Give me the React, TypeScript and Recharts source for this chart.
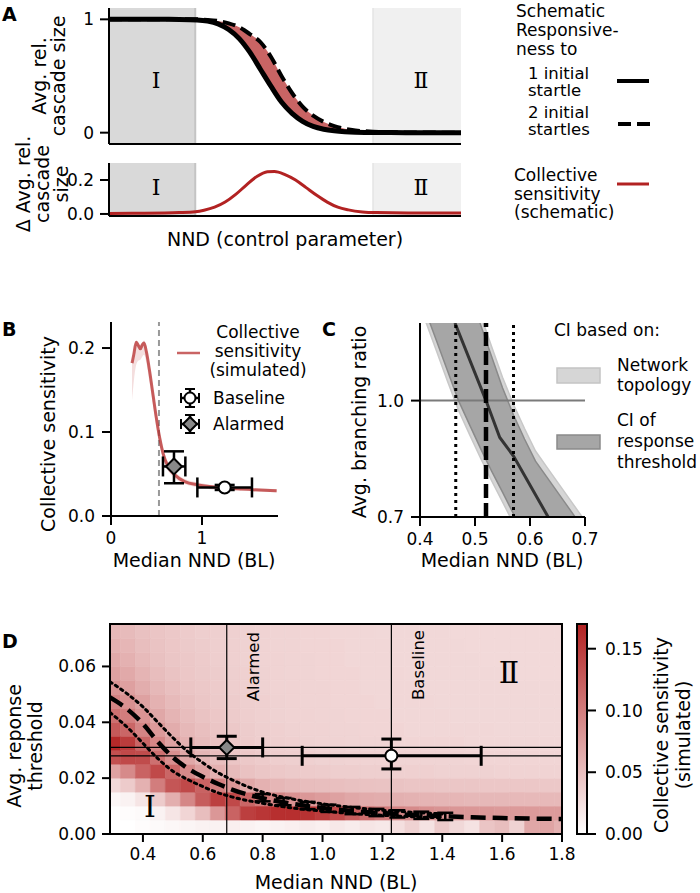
import React from 'react';
import {
  ComposedChart, Line, Area, XAxis, YAxis, ReferenceArea, ReferenceLine, Scatter, ErrorBar,
} from 'recharts';

const FONT = 'DejaVu Sans';
const SERIF = 'DejaVu Serif';
const RED = '#b22222';

// ---------------- Panel A (schematic) ----------------
const aX = [0, 0.05, 0.1, 0.15, 0.2, 0.25, 0.28, 0.31, 0.34, 0.37, 0.4, 0.43, 0.46, 0.49, 0.52, 0.55, 0.58, 0.61, 0.64, 0.67, 0.7, 0.75, 0.8, 0.9, 1.0];
const aOneStartle = [1, 1, 1, 1, 0.999, 0.995, 0.985, 0.96, 0.91, 0.83, 0.71, 0.56, 0.41, 0.27, 0.17, 0.1, 0.055, 0.03, 0.016, 0.008, 0.004, 0.002, 0.001, 0, 0];
const aTwoStartles = [1, 1, 1, 1, 1, 1, 0.995, 0.985, 0.965, 0.93, 0.87, 0.8, 0.67, 0.5, 0.35, 0.23, 0.15, 0.095, 0.058, 0.034, 0.02, 0.008, 0.004, 0.001, 0];
const aDiffX = [0, 0.1, 0.2, 0.245, 0.27, 0.3, 0.33, 0.36, 0.39, 0.42, 0.45, 0.47, 0.5, 0.53, 0.56, 0.59, 0.62, 0.65, 0.68, 0.72, 0.76, 0.85, 1.0];
const aDiff = [0.003, 0.004, 0.008, 0.013, 0.022, 0.04, 0.07, 0.115, 0.17, 0.22, 0.248, 0.25, 0.232, 0.2, 0.155, 0.11, 0.07, 0.04, 0.024, 0.012, 0.008, 0.006, 0.006];
const aRegionI = [0, 0.245];
const aRegionII = [0.75, 1];

// ---------------- Panel B ----------------
const bX = [0.231, 0.25, 0.277, 0.3, 0.322, 0.345, 0.363, 0.388, 0.425, 0.462, 0.498, 0.535, 0.571, 0.626, 0.7, 0.81, 0.956, 1.18, 1.44, 1.82];
const bY = [0.182, 0.192, 0.207, 0.203, 0.199, 0.204, 0.206, 0.196, 0.172, 0.144, 0.117, 0.093, 0.075, 0.059, 0.049, 0.041, 0.037, 0.034, 0.032, 0.03];
const bLo = [0.138, 0.16, 0.18, 0.185, 0.186, 0.19, 0.192, 0.183, 0.158, 0.132, 0.106, 0.084, 0.068, 0.054, 0.045, 0.038, 0.034, 0.031, 0.03, 0.028];
const bHi = [0.186, 0.198, 0.209, 0.207, 0.203, 0.207, 0.209, 0.202, 0.18, 0.152, 0.126, 0.101, 0.082, 0.064, 0.053, 0.044, 0.04, 0.036, 0.034, 0.032];
const bCritical = 0.527;
const bBaseline = { x: 1.249, y: 0.034, ex: [0.3, 0.3], ey: [0.003, 0.003] };
const bAlarmed = { x: 0.692, y: 0.059, ex: [0.121, 0.125], ey: [0.02, 0.018] };

// ---------------- Panel C ----------------
const cX = [0.39, 0.41, 0.43, 0.45, 0.47, 0.49, 0.51, 0.53, 0.55, 0.57, 0.59, 0.61, 0.63, 0.65, 0.67, 0.69, 0.71];
const cDarkLo = [1.308, 1.231, 1.154, 1.077, 1.0, 0.938, 0.877, 0.819, 0.764, 0.708, 0.653, 0.6, 0.6, 0.6, 0.6, 0.6, 0.6];
const cDarkHi = [1.35, 1.35, 1.35, 1.35, 1.35, 1.278, 1.196, 1.114, 1.033, 0.963, 0.901, 0.844, 0.804, 0.764, 0.724, 0.684, 0.644];
const cLightLo = [1.28, 1.205, 1.128, 1.05, 0.975, 0.913, 0.852, 0.794, 0.739, 0.683, 0.628, 0.6, 0.6, 0.6, 0.6, 0.6, 0.6];
const cLightHi = [1.35, 1.35, 1.35, 1.35, 1.35, 1.3, 1.222, 1.14, 1.06, 0.99, 0.928, 0.87, 0.83, 0.79, 0.75, 0.71, 0.67];
const cLineX = [0.4636, 0.52, 0.545, 0.57, 0.633];
const cLineY = [1.2, 1.0, 0.905, 0.857, 0.7];
const cCritical = 0.52;
const cCI = [0.465, 0.57];

// ---------------- Panel D ----------------
const dCellX = [0.3, 0.35, 0.4, 0.45, 0.5, 0.55, 0.6, 0.65, 0.7, 0.75, 0.8, 0.85, 0.9, 0.95, 1.0, 1.05, 1.1, 1.15, 1.2, 1.25, 1.3, 1.35, 1.4, 1.45, 1.5, 1.55, 1.6, 1.65, 1.7, 1.75, 1.8];
const dCellY = [0.0025, 0.0075, 0.0125, 0.0175, 0.0225, 0.0275, 0.0325, 0.0375, 0.0425, 0.0475, 0.0525, 0.0575, 0.0625, 0.0675, 0.0725];
const dBinW = 0.05;
const dBinH = 0.005;
const dHeat = [
  [0.0, 0.0, 0.002, 0.004, 0.006, 0.008, 0.01, 0.01, 0.012, 0.01, 0.008, 0.01, 0.012, 0.015, 0.012, 0.018, 0.015, 0.02, 0.018, 0.025, 0.035, 0.022, 0.04, 0.03, 0.022, 0.045, 0.05, 0.035, 0.068, 0.07, 0.06],
  [0.0, 0.002, 0.004, 0.01, 0.02, 0.032, 0.05, 0.08, 0.12, 0.148, 0.155, 0.16, 0.16, 0.158, 0.15, 0.14, 0.125, 0.112, 0.102, 0.095, 0.09, 0.086, 0.083, 0.081, 0.08, 0.079, 0.078, 0.078, 0.078, 0.077, 0.077],
  [0.006, 0.01, 0.02, 0.04, 0.062, 0.092, 0.125, 0.148, 0.14, 0.118, 0.102, 0.094, 0.085, 0.08, 0.076, 0.072, 0.068, 0.065, 0.063, 0.061, 0.059, 0.058, 0.057, 0.056, 0.055, 0.055, 0.055, 0.054, 0.054, 0.054, 0.054],
  [0.03, 0.04, 0.06, 0.1, 0.13, 0.14, 0.12, 0.098, 0.08, 0.068, 0.06, 0.056, 0.053, 0.051, 0.05, 0.049, 0.048, 0.047, 0.046, 0.046, 0.045, 0.045, 0.044, 0.044, 0.044, 0.043, 0.043, 0.043, 0.043, 0.042, 0.042],
  [0.072, 0.09, 0.12, 0.14, 0.118, 0.09, 0.072, 0.06, 0.052, 0.047, 0.044, 0.042, 0.041, 0.04, 0.039, 0.038, 0.038, 0.037, 0.037, 0.036, 0.036, 0.036, 0.035, 0.035, 0.035, 0.035, 0.034, 0.034, 0.034, 0.034, 0.034],
  [0.135, 0.14, 0.138, 0.11, 0.086, 0.068, 0.057, 0.05, 0.045, 0.042, 0.04, 0.038, 0.037, 0.036, 0.035, 0.035, 0.034, 0.034, 0.034, 0.033, 0.033, 0.033, 0.033, 0.033, 0.032, 0.032, 0.032, 0.032, 0.032, 0.032, 0.032],
  [0.165, 0.15, 0.118, 0.092, 0.072, 0.06, 0.052, 0.047, 0.043, 0.04, 0.038, 0.037, 0.036, 0.035, 0.034, 0.034, 0.033, 0.033, 0.033, 0.032, 0.032, 0.032, 0.032, 0.032, 0.031, 0.031, 0.031, 0.031, 0.031, 0.031, 0.031],
  [0.128, 0.118, 0.095, 0.078, 0.064, 0.055, 0.049, 0.045, 0.042, 0.039, 0.037, 0.036, 0.035, 0.034, 0.034, 0.033, 0.033, 0.032, 0.032, 0.032, 0.031, 0.031, 0.031, 0.031, 0.031, 0.031, 0.03, 0.03, 0.03, 0.03, 0.03],
  [0.11, 0.1, 0.082, 0.068, 0.058, 0.051, 0.046, 0.043, 0.04, 0.038, 0.036, 0.035, 0.034, 0.034, 0.033, 0.033, 0.032, 0.032, 0.032, 0.031, 0.031, 0.031, 0.031, 0.03, 0.03, 0.03, 0.03, 0.03, 0.03, 0.03, 0.03],
  [0.095, 0.085, 0.072, 0.06, 0.053, 0.048, 0.044, 0.041, 0.039, 0.037, 0.036, 0.035, 0.034, 0.033, 0.033, 0.032, 0.032, 0.032, 0.031, 0.031, 0.031, 0.031, 0.03, 0.03, 0.03, 0.03, 0.03, 0.03, 0.03, 0.03, 0.03],
  [0.082, 0.073, 0.063, 0.055, 0.049, 0.045, 0.042, 0.04, 0.038, 0.036, 0.035, 0.034, 0.034, 0.033, 0.033, 0.032, 0.032, 0.031, 0.031, 0.031, 0.031, 0.03, 0.03, 0.03, 0.03, 0.03, 0.03, 0.03, 0.03, 0.03, 0.03],
  [0.072, 0.066, 0.058, 0.051, 0.046, 0.043, 0.041, 0.039, 0.037, 0.036, 0.035, 0.034, 0.033, 0.033, 0.032, 0.032, 0.032, 0.031, 0.031, 0.031, 0.03, 0.03, 0.03, 0.03, 0.03, 0.03, 0.03, 0.029, 0.029, 0.029, 0.029],
  [0.066, 0.06, 0.053, 0.048, 0.044, 0.042, 0.04, 0.038, 0.036, 0.035, 0.034, 0.034, 0.033, 0.033, 0.032, 0.032, 0.031, 0.031, 0.031, 0.03, 0.03, 0.03, 0.03, 0.03, 0.03, 0.029, 0.029, 0.029, 0.029, 0.029, 0.029],
  [0.06, 0.056, 0.05, 0.046, 0.043, 0.041, 0.039, 0.037, 0.036, 0.035, 0.034, 0.033, 0.033, 0.032, 0.032, 0.032, 0.031, 0.031, 0.031, 0.03, 0.03, 0.03, 0.03, 0.03, 0.029, 0.029, 0.029, 0.029, 0.029, 0.029, 0.029],
  [0.055, 0.052, 0.048, 0.045, 0.042, 0.04, 0.038, 0.037, 0.036, 0.035, 0.034, 0.033, 0.033, 0.032, 0.032, 0.031, 0.031, 0.031, 0.03, 0.03, 0.03, 0.03, 0.03, 0.029, 0.029, 0.029, 0.029, 0.029, 0.029, 0.029, 0.029],
];
const dMidX = [0.29, 0.35, 0.4, 0.45, 0.5, 0.55, 0.6, 0.65, 0.7, 0.8, 0.9, 1.0, 1.1, 1.2, 1.3, 1.4, 1.5, 1.6, 1.7, 1.8];
const dMid = [0.0489, 0.0445, 0.0395, 0.033, 0.0275, 0.0235, 0.0205, 0.018, 0.0158, 0.0128, 0.0108, 0.0093, 0.0082, 0.0075, 0.0068, 0.0064, 0.006, 0.0057, 0.0055, 0.0054];
const dBandX = [0.29, 0.35, 0.4, 0.45, 0.5, 0.55, 0.6, 0.65, 0.7, 0.8, 0.9, 1.0, 1.1, 1.2, 1.3, 1.4];
const dUpper = [0.0545, 0.05, 0.0455, 0.04, 0.0345, 0.0295, 0.0255, 0.022, 0.0193, 0.015, 0.0125, 0.0108, 0.0095, 0.0085, 0.0078, 0.0072];
const dLower = [0.0435, 0.038, 0.0325, 0.027, 0.0225, 0.0195, 0.017, 0.0148, 0.0132, 0.011, 0.0093, 0.0082, 0.0073, 0.0067, 0.0062, 0.0058];
const dTickX = [0.8, 0.87, 0.95, 1.02, 1.1, 1.18, 1.25, 1.33, 1.41];
const dTickY = [0.013, 0.0116, 0.0102, 0.0092, 0.0084, 0.0077, 0.0072, 0.0067, 0.0063];
const dAlarmed = { x: 0.68, y: 0.031, ex: [0.12, 0.12], ey: [0.004, 0.004] };
const dBaseline = { x: 1.23, y: 0.028, ex: [0.298, 0.3], ey: [0.0047, 0.006] };
const dRefX = [0.68, 1.23];
const dRefY = [0.031, 0.028];
const cbMax = 0.17;

// ---------------- helpers ----------------
const tickStyle = { fontSize: 17, fill: '#000', fontFamily: FONT };
const axisLine = { stroke: '#000', strokeWidth: 2 };
const tickLine = { stroke: '#000', strokeWidth: 2 };

const heatColor = (v: number) => {
  const t = Math.max(0, Math.min(1, v / cbMax));
  const mix = (a: number, b: number) => Math.round(a + (b - a) * t);
  return `rgb(${mix(255, 178)},${mix(255, 34)},${mix(255, 34)})`;
};

const circleShape = (r: number) => (p: any) => (
  <circle cx={p.cx} cy={p.cy} r={r} fill="#fff" stroke="#000" strokeWidth={2} />
);
const diamondShape = (r: number) => (p: any) => (
  <polygon
    points={`${p.cx},${p.cy - r} ${p.cx + r},${p.cy} ${p.cx},${p.cy + r} ${p.cx - r},${p.cy}`}
    fill="#888" stroke="#000" strokeWidth={2}
  />
);
const noShape = () => <g />;

const Pos = ({ left, top, children }: any) => (
  <div style={{ position: 'absolute', left, top }}>{children}</div>
);

const Txt = ({ x, y, children, size = 17, anchor = 'start', rot = false, weight = 'normal', family = FONT }: any) => (
  <text
    x={x} y={y} fontSize={size} textAnchor={anchor} fontFamily={family} fontWeight={weight} fill="#000"
    transform={rot ? `rotate(-90 ${x} ${y})` : undefined}
  >
    {children}
  </text>
);

const LegendMarker = ({ x, y, kind }: any) => (
  <g>
    <line x1={x - 9} x2={x + 9} y1={y} y2={y} stroke="#000" strokeWidth={2.5} />
    <line x1={x - 9} x2={x - 9} y1={y - 5} y2={y + 5} stroke="#000" strokeWidth={2} />
    <line x1={x + 9} x2={x + 9} y1={y - 5} y2={y + 5} stroke="#000" strokeWidth={2} />
    <line x1={x} x2={x} y1={y - 9} y2={y + 9} stroke="#000" strokeWidth={2.5} />
    <line x1={x - 5} x2={x + 5} y1={y - 9} y2={y - 9} stroke="#000" strokeWidth={2} />
    <line x1={x - 5} x2={x + 5} y1={y + 9} y2={y + 9} stroke="#000" strokeWidth={2} />
    {kind === 'circle' ? (
      <circle cx={x} cy={y} r={5.5} fill="#fff" stroke="#000" strokeWidth={2} />
    ) : (
      <polygon points={`${x},${y - 7} ${x + 7},${y} ${x},${y + 7} ${x - 7},${y}`} fill="#888" stroke="#000" strokeWidth={2} />
    )}
  </g>
);

export default function App() {
  const aData = aX.map((x, i) => ({ x, one: aOneStartle[i], two: aTwoStartles[i], band: [aOneStartle[i], aTwoStartles[i]] }));
  const aDiffData = aDiffX.map((x, i) => ({ x, y: aDiff[i] }));
  const bData = bX.map((x, i) => ({ x, y: bY[i], band: [bLo[i], bHi[i]] }));
  const cData = cX.map((x, i) => ({ x, dark: [cDarkLo[i], cDarkHi[i]], light: [cLightLo[i], cLightHi[i]] }));
  const cLineData = cLineX.map((x, i) => ({ x, y: cLineY[i] }));
  const dMidData = dMidX.map((x, i) => ({ x, y: dMid[i] }));
  const dUpData = dBandX.map((x, i) => ({ x, y: dUpper[i] }));
  const dLoData = dBandX.map((x, i) => ({ x, y: dLower[i] }));
  const dTickData = dTickX.map((x, i) => ({ x, y: dTickY[i], e: 0.0013 }));

  const heatCells: any[] = [];
  dHeat.forEach((row, r) =>
    row.forEach((v, c) => {
      const col = heatColor(v);
      heatCells.push(
        <ReferenceArea
          key={`h${r}-${c}`}
          x1={dCellX[c] - dBinW / 2} x2={dCellX[c] + dBinW / 2}
          y1={dCellY[r] - dBinH / 2} y2={dCellY[r] + dBinH / 2}
          fill={col} fillOpacity={1} stroke={col} strokeWidth={0.6} ifOverflow="hidden"
        />,
      );
    }),
  );

  return (
    <div style={{ position: 'absolute', left: 0, top: 0, width: 700, height: 893, background: '#fff', fontFamily: FONT }}>
      {/* Panel A top */}
      <Pos left={0} top={0}>
        <ComposedChart width={470} height={152} data={aData} margin={{ top: 8, right: 9, bottom: 0, left: 0 }}>
          <XAxis type="number" dataKey="x" domain={[0, 1]} tick={false} tickLine={false} axisLine={axisLine} height={8} />
          <YAxis type="number" domain={[-0.1, 1.1]} ticks={[0, 1]} interval={0} width={109} tick={tickStyle}
            tickLine={tickLine} axisLine={axisLine} tickSize={9} tickMargin={6} />
          <ReferenceArea x1={aRegionI[0]} x2={aRegionI[1]} fill="#d9d9d9" fillOpacity={1} stroke="none" />
          <ReferenceLine x={aRegionI[1]} stroke="#c4c4c4" strokeWidth={2} />
          <ReferenceArea x1={aRegionII[0]} x2={aRegionII[1]} fill="#f0f0f0" fillOpacity={1} stroke="none" />
          <ReferenceLine x={aRegionII[0]} stroke="#e4e4e4" strokeWidth={1.5} />
          <Area type="monotone" dataKey="band" fill={RED} fillOpacity={0.7} stroke="none" isAnimationActive={false} />
          <Line type="monotone" dataKey="one" stroke="#000" strokeWidth={5} dot={false} isAnimationActive={false} />
          <Line type="monotone" dataKey="two" stroke="#000" strokeWidth={4} strokeDasharray="13 6" dot={false} isAnimationActive={false} />
        </ComposedChart>
      </Pos>

      {/* Panel A bottom */}
      <Pos left={0} top={155}>
        <ComposedChart width={470} height={69} data={aDiffData} margin={{ top: 8, right: 9, bottom: 0, left: 0 }}>
          <XAxis type="number" dataKey="x" domain={[0, 1]} tick={false} tickLine={false} axisLine={axisLine} height={8} />
          <YAxis type="number" domain={[-0.012, 0.3]} ticks={[0, 0.2]} interval={0} width={109} tick={tickStyle}
            tickFormatter={(v: number) => v.toFixed(1)} tickLine={tickLine} axisLine={axisLine} tickSize={9} tickMargin={6} />
          <ReferenceArea x1={aRegionI[0]} x2={aRegionI[1]} fill="#d9d9d9" fillOpacity={1} stroke="none" />
          <ReferenceLine x={aRegionI[1]} stroke="#c4c4c4" strokeWidth={2} />
          <ReferenceArea x1={aRegionII[0]} x2={aRegionII[1]} fill="#f0f0f0" fillOpacity={1} stroke="none" />
          <ReferenceLine x={aRegionII[0]} stroke="#e4e4e4" strokeWidth={1.5} />
          <Line type="monotone" dataKey="y" stroke={RED} strokeWidth={3} dot={false} isAnimationActive={false} />
        </ComposedChart>
      </Pos>

      {/* Panel B */}
      <Pos left={0} top={300}>
        <ComposedChart width={290} height={270} data={bData} margin={{ top: 22, right: 12, bottom: 0, left: 0 }}>
          <XAxis type="number" dataKey="x" domain={[0, 1.835]} ticks={[0, 1]} interval={0} allowDataOverflow height={54}
            tick={tickStyle} tickLine={tickLine} axisLine={axisLine} tickSize={9} tickMargin={7} />
          <YAxis type="number" domain={[0, 0.231]} ticks={[0, 0.1, 0.2]} interval={0} allowDataOverflow width={111}
            tick={tickStyle} tickFormatter={(v: number) => v.toFixed(1)} tickLine={tickLine} axisLine={axisLine} tickSize={9} tickMargin={7} />
          <ReferenceLine x={bCritical} stroke="#999" strokeWidth={2} strokeDasharray="6 4" />
          <Area type="monotone" dataKey="band" fill={RED} fillOpacity={0.15} stroke="none" isAnimationActive={false} />
          <Line type="monotone" dataKey="y" stroke={RED} strokeOpacity={0.7} strokeWidth={3} dot={false} isAnimationActive={false} />
          <Scatter data={[bAlarmed]} dataKey="y" shape={diamondShape(8)} isAnimationActive={false}>
            <ErrorBar dataKey="ex" direction="x" width={10} stroke="#000" strokeWidth={2.5} />
            <ErrorBar dataKey="ey" direction="y" width={10} stroke="#000" strokeWidth={2.5} />
          </Scatter>
          <Scatter data={[bBaseline]} dataKey="y" shape={circleShape(6)} isAnimationActive={false}>
            <ErrorBar dataKey="ex" direction="x" width={10} stroke="#000" strokeWidth={2.5} />
            <ErrorBar dataKey="ey" direction="y" width={10} stroke="#000" strokeWidth={2.5} />
          </Scatter>
        </ComposedChart>
      </Pos>

      {/* Panel C */}
      <Pos left={300} top={300}>
        <ComposedChart width={310} height={270} data={cData} margin={{ top: 23, right: 25, bottom: 0, left: 0 }}>
          <XAxis type="number" dataKey="x" domain={[0.4, 0.7]} ticks={[0.4, 0.5, 0.6, 0.7]} interval={0} allowDataOverflow height={53}
            tick={tickStyle} tickFormatter={(v: number) => v.toFixed(1)} tickLine={tickLine} axisLine={axisLine} tickSize={9} tickMargin={7} />
          <YAxis type="number" domain={[0.7, 1.2]} ticks={[0.7, 1.0]} interval={0} allowDataOverflow width={120}
            tick={tickStyle} tickFormatter={(v: number) => v.toFixed(1)} tickLine={tickLine} axisLine={axisLine} tickSize={9} tickMargin={7} />
          <Area type="linear" dataKey="light" fill="#d6d6d6" fillOpacity={1} stroke="#c8c8c8" strokeWidth={1.5} isAnimationActive={false} />
          <Area type="linear" dataKey="dark" fill="#a6a6a6" fillOpacity={1} stroke="#8a8a8a" strokeWidth={1.5} isAnimationActive={false} />
          <ReferenceLine y={1.0} stroke="#7a7a7a" strokeWidth={2} />
          <Line data={cLineData} type="linear" dataKey="y" stroke="#333" strokeWidth={3} dot={false} isAnimationActive={false} />
          <ReferenceLine x={cCI[0]} stroke="#000" strokeWidth={3} strokeDasharray="3 4" />
          <ReferenceLine x={cCI[1]} stroke="#000" strokeWidth={3} strokeDasharray="3 4" />
          <ReferenceLine x={cCritical} stroke="#000" strokeWidth={4.5} strokeDasharray="14 5" />
        </ComposedChart>
      </Pos>

      {/* Panel D heatmap */}
      <Pos left={0} top={600}>
        <ComposedChart width={580} height={270} margin={{ top: 24, right: 18, bottom: 0, left: 0 }}>
          <XAxis type="number" dataKey="x" domain={[0.29, 1.8]} ticks={[0.4, 0.6, 0.8, 1.0, 1.2, 1.4, 1.6, 1.8]} interval={0}
            allowDataOverflow height={36} tick={tickStyle} tickFormatter={(v: number) => v.toFixed(1)}
            tickLine={tickLine} axisLine={axisLine} tickSize={8} tickMargin={6} />
          <YAxis type="number" domain={[0, 0.0752]} ticks={[0, 0.02, 0.04, 0.06]} interval={0} allowDataOverflow width={110}
            tick={tickStyle} tickFormatter={(v: number) => v.toFixed(2)} tickLine={tickLine} axisLine={axisLine} tickSize={8} tickMargin={6} />
          {heatCells}
          {dRefX.map((v) => <ReferenceLine key={`rx${v}`} x={v} stroke="#000" strokeWidth={1.2} />)}
          {dRefY.map((v) => <ReferenceLine key={`ry${v}`} y={v} stroke="#000" strokeWidth={1.2} />)}
          <Line data={dUpData} type="monotone" dataKey="y" stroke="#000" strokeWidth={3} strokeDasharray="2.5 4" strokeLinecap="round" dot={false} isAnimationActive={false} />
          <Line data={dLoData} type="monotone" dataKey="y" stroke="#000" strokeWidth={3} strokeDasharray="2.5 4" strokeLinecap="round" dot={false} isAnimationActive={false} />
          <Line data={dMidData} type="monotone" dataKey="y" stroke="#000" strokeWidth={4.5} strokeDasharray="15 7" dot={false} isAnimationActive={false} />
          <Scatter data={dTickData} dataKey="y" shape={noShape} isAnimationActive={false}>
            <ErrorBar dataKey="e" direction="y" width={8} stroke="#000" strokeWidth={2.5} />
          </Scatter>
          <Scatter data={[dAlarmed]} dataKey="y" shape={diamondShape(7.5)} isAnimationActive={false}>
            <ErrorBar dataKey="ex" direction="x" width={10} stroke="#000" strokeWidth={3} />
            <ErrorBar dataKey="ey" direction="y" width={10} stroke="#000" strokeWidth={3} />
          </Scatter>
          <Scatter data={[dBaseline]} dataKey="y" shape={circleShape(6)} isAnimationActive={false}>
            <ErrorBar dataKey="ex" direction="x" width={10} stroke="#000" strokeWidth={3} />
            <ErrorBar dataKey="ey" direction="y" width={10} stroke="#000" strokeWidth={3} />
          </Scatter>
          <ReferenceArea x1={0.29} x2={1.8} y1={0} y2={0.0752} fill="none" fillOpacity={0} stroke="#000" strokeWidth={2} />
        </ComposedChart>
      </Pos>

      {/* Colorbar */}
      <Pos left={570} top={600}>
        <ComposedChart width={80} height={270} data={[{ x: 0 }, { x: 1 }]} margin={{ top: 24, right: 0, bottom: 36, left: 7 }}>
          <defs>
            <linearGradient id="cbGrad" x1="0" y1="1" x2="0" y2="0">
              <stop offset="0" stopColor={heatColor(0)} />
              <stop offset="1" stopColor={heatColor(cbMax)} />
            </linearGradient>
          </defs>
          <XAxis type="number" dataKey="x" domain={[0, 1]} hide />
          <YAxis type="number" orientation="right" domain={[0, cbMax]} ticks={[0, 0.05, 0.1, 0.15]} interval={0} allowDataOverflow width={63}
            tick={tickStyle} tickFormatter={(v: number) => v.toFixed(2)} tickLine={tickLine} axisLine={axisLine} tickSize={9} tickMargin={9} />
          <ReferenceArea x1={0} x2={1} y1={0} y2={cbMax} fill="url(#cbGrad)" fillOpacity={1} stroke="#000" strokeWidth={2} />
        </ComposedChart>
      </Pos>

      {/* Text overlay */}
      <svg width={700} height={893} style={{ position: 'absolute', left: 0, top: 0, pointerEvents: 'none' }}>
        {/* panel letters */}
        <Txt x={2} y={21} size={19} weight="bold">A</Txt>
        <Txt x={2} y={336} size={19} weight="bold">B</Txt>
        <Txt x={322} y={336} size={19} weight="bold">C</Txt>
        <Txt x={2} y={648} size={19} weight="bold">D</Txt>

        {/* Panel A labels */}
        <Txt x={46} y={76} size={19} anchor="middle" rot>Avg. rel.</Txt>
        <Txt x={65} y={76} size={19} anchor="middle" rot>cascade size</Txt>
        <Txt x={30} y={184} size={19} anchor="middle" rot>Δ Avg. rel.</Txt>
        <Txt x={49} y={184} size={19} anchor="middle" rot>cascade</Txt>
        <Txt x={68} y={184} size={19} anchor="middle" rot>size</Txt>
        <Txt x={285} y={246} size={19} anchor="middle">NND (control parameter)</Txt>
        <Txt x={156} y={88} size={22} anchor="middle" family={SERIF}>Ⅰ</Txt>
        <Txt x={421} y={88} size={22} anchor="middle" family={SERIF}>Ⅱ</Txt>
        <Txt x={156} y={195} size={22} anchor="middle" family={SERIF}>Ⅰ</Txt>
        <Txt x={421} y={195} size={22} anchor="middle" family={SERIF}>Ⅱ</Txt>

        {/* Panel A legend */}
        <Txt x={516} y={16.5}>Schematic</Txt>
        <Txt x={516} y={36}>Responsive-</Txt>
        <Txt x={516} y={55}>ness to</Txt>
        <Txt x={528} y={79} size={16.5}>1 initial</Txt>
        <Txt x={528} y={96} size={16.5}>startle</Txt>
        <Txt x={528} y={118} size={16.5}>2 initial</Txt>
        <Txt x={528} y={135} size={16.5}>startles</Txt>
        <line x1={617} x2={649} y1={81} y2={81} stroke="#000" strokeWidth={4} />
        <line x1={618} x2={653} y1={124} y2={124} stroke="#000" strokeWidth={4} strokeDasharray="13 6" />
        <Txt x={514} y={181}>Collective</Txt>
        <Txt x={514} y={199.5}>sensitivity</Txt>
        <Txt x={514} y={218}>(schematic)</Txt>
        <line x1={617} x2={649} y1={184} y2={184} stroke={RED} strokeWidth={3} />

        {/* Panel B labels */}
        <Txt x={55} y={434} size={19} anchor="middle" rot>Collective sensitivity</Txt>
        <Txt x={194} y={567} size={19} anchor="middle">Median NND (BL)</Txt>
        <line x1={177} x2={200} y1={353} y2={353} stroke={RED} strokeOpacity={0.7} strokeWidth={2.5} />
        <Txt x={258} y={338} anchor="middle">Collective</Txt>
        <Txt x={258} y={357} anchor="middle">sensitivity</Txt>
        <Txt x={258} y={376} anchor="middle">(simulated)</Txt>
        <LegendMarker x={190} y={398} kind="circle" />
        <LegendMarker x={190} y={424} kind="diamond" />
        <Txt x={213} y={404}>Baseline</Txt>
        <Txt x={213} y={430}>Alarmed</Txt>

        {/* Panel C labels */}
        <Txt x={366} y={422} size={19} anchor="middle" rot>Avg. branching ratio</Txt>
        <Txt x={502} y={567} size={19} anchor="middle">Median NND (BL)</Txt>
        <Txt x={554} y={336}>CI based on:</Txt>
        <rect x={557} y={368} width={43} height={15} fill="#d6d6d6" stroke="#c4c4c4" strokeWidth={1.5} />
        <rect x={557} y={435} width={43} height={14} fill="#a6a6a6" stroke="#8a8a8a" strokeWidth={1.5} />
        <Txt x={617} y={371}>Network</Txt>
        <Txt x={617} y={391}>topology</Txt>
        <Txt x={617} y={426}>CI of</Txt>
        <Txt x={617} y={447}>response</Txt>
        <Txt x={617} y={468}>threshold</Txt>

        {/* Panel D labels */}
        <Txt x={21} y={746} size={19} anchor="middle" rot>Avg. reponse</Txt>
        <Txt x={42} y={746} size={19} anchor="middle" rot>threshold</Txt>
        <Txt x={336} y={889} size={19} anchor="middle">Median NND (BL)</Txt>
        <Txt x={259} y={632} size={16.5} anchor="end" rot>Alarmed</Txt>
        <Txt x={424} y={630} size={16.5} anchor="end" rot>Baseline</Txt>
        <Txt x={509} y={683} size={30} anchor="middle" family={SERIF}>Ⅱ</Txt>
        <Txt x={150} y={817} size={30} anchor="middle" family={SERIF}>Ⅰ</Txt>
        <Txt x={668} y={735} size={19} anchor="middle" rot>Collective sensitivity</Txt>
        <Txt x={690} y={735} size={19} anchor="middle" rot>(simulated)</Txt>
      </svg>
    </div>
  );
}
